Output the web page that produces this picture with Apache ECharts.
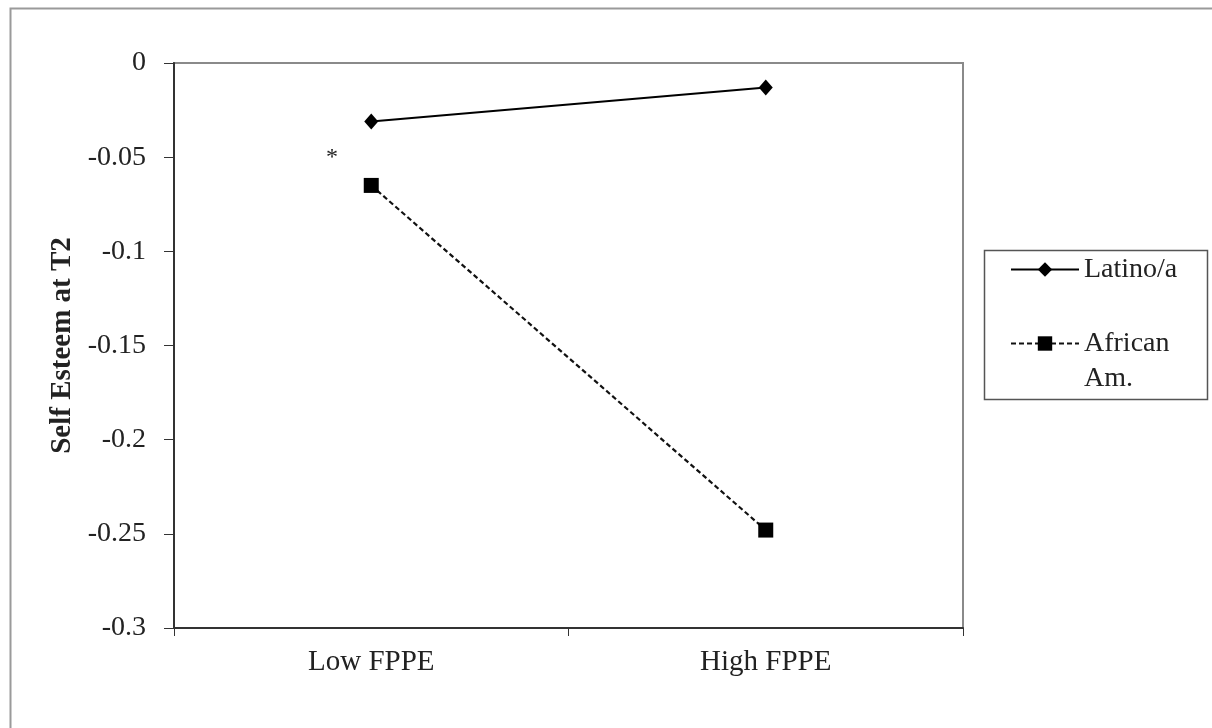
<!DOCTYPE html>
<html>
<head>
<meta charset="utf-8">
<script src="https://cdn.jsdelivr.net/npm/echarts@6/dist/echarts.min.js"></script>
<style>
html,body{margin:0;padding:0;background:#fff;}
#chart{width:1212px;height:728px;}
</style>
</head>
<body>
<div id="chart"></div>
<script>
const categories = ['Low FPPE', 'High FPPE'];
const latinoValues = [-0.031, -0.013];
const africanValues = [-0.065, -0.248];
const yTickLabels = ['0', '-0.05', '-0.1', '-0.15', '-0.2', '-0.25', '-0.3'];
const seriesNames = ['Latino/a', 'African Am.'];
const yAxisTitle = 'Self Esteem at T2';
const annotation = '*';

const FONT = '"Liberation Serif", "Times New Roman", serif';
const chart = echarts.init(document.getElementById('chart'), null, {renderer: 'canvas'});

const option = {
  backgroundColor: '#fff',
  animation: false,
  grid: {
    left: 174, right: 249, top: 63, bottom: 100,
    show: true, borderColor: '#8a8a8a', borderWidth: 2, backgroundColor: 'transparent', z: 0
  },
  xAxis: {
    type: 'category',
    data: categories,
    boundaryGap: true,
    z: 5,
    axisLine: {onZero: false, lineStyle: {color: '#333', width: 2}},
    axisTick: {show: true, length: 8, lineStyle: {color: '#333', width: 1}},
    axisLabel: {margin: 20, color: '#222', fontFamily: FONT, fontSize: 29},
    splitLine: {show: false}
  },
  yAxis: {
    type: 'value',
    min: -0.3, max: 0, interval: 0.05,
    z: 5,
    name: yAxisTitle,
    nameLocation: 'middle',
    nameGap: 96,
    nameTextStyle: {color: '#222', fontFamily: FONT, fontSize: 29, fontWeight: 'bold'},
    axisLine: {show: true, onZero: false, lineStyle: {color: '#333', width: 2}},
    axisTick: {show: true, length: 10, lineStyle: {color: '#333', width: 1}},
    axisLabel: {
      margin: 28, color: '#222', fontFamily: FONT, fontSize: 28,
      formatter: function (v) {
        const idx = Math.round(-v / 0.05);
        return yTickLabels[idx];
      }
    },
    splitLine: {show: false}
  },
  legend: {
    orient: 'vertical',
    left: 982, top: 252,
    padding: [0, 0, 0, 28],
    itemWidth: 68, itemHeight: 18,
    itemGap: 4,
    data: seriesNames,
    formatter: function (name) {
      return name === seriesNames[1] ? '\nAfrican\nAm.' : name;
    },
    textStyle: {color: '#222', fontFamily: FONT, fontSize: 28, lineHeight: 35}
  },
  graphic: [
    {type: 'rect', left: 8, top: 6, silent: true, z: -10,
     shape: {x: 0, y: 0, width: 1240, height: 760},
     style: {fill: 'none', stroke: '#9a9a9a', lineWidth: 2}},
    {type: 'rect', left: 982, top: 248, silent: true, z: 10,
     shape: {x: 0, y: 0, width: 223, height: 149},
     style: {fill: 'none', stroke: '#555', lineWidth: 1.5}},
    {type: 'text', left: 326, top: 146, silent: true,
     style: {text: annotation, fill: '#222', font: '24px ' + FONT}}
  ],
  series: [
    {
      name: seriesNames[0],
      type: 'line',
      data: latinoValues,
      symbol: 'diamond',
      symbolSize: [14, 16],
      lineStyle: {color: '#000', width: 2, type: 'solid'},
      itemStyle: {color: '#000'}
    },
    {
      name: seriesNames[1],
      type: 'line',
      data: africanValues,
      symbol: 'rect',
      symbolSize: 15,
      lineStyle: {color: '#111', width: 2.2, type: [5, 3]},
      itemStyle: {color: '#000'}
    }
  ]
};
chart.setOption(option);
</script>
</body>
</html>
